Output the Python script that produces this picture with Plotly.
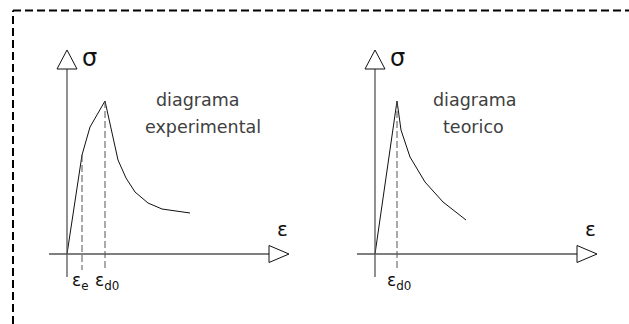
import plotly.graph_objects as go

# Stress-strain curves (strain in arbitrary units, stress in arbitrary units)
exp_strain = [0, 1.5, 2.3, 3.8, 5.1, 5.9, 6.8, 8.1, 9.5, 12.3]
exp_stress = [0, 9.9, 12.7, 15.3, 9.4, 7.6, 6.2, 5.1, 4.5, 4.1]
exp_marks = [1.5, 3.8]            # epsilon_e, epsilon_d0
exp_mark_labels = ["ε<sub>e</sub>", "ε<sub>d0</sub>"]

teo_strain = [0, 2.2, 2.6, 3.5, 5.0, 6.8, 9.1]
teo_stress = [0, 15.3, 12.4, 9.7, 7.2, 5.2, 3.4]
teo_marks = [2.2]
teo_mark_labels = ["ε<sub>d0</sub>"]

titles = [["diagrama", "experimental"], ["diagrama", "teorico"]]

FONT = "DejaVu Sans"
INK = "#111111"
AXIS_INK = "#555555"
TEXT_INK = "#404040"

fig = go.Figure()

# axis geometry (in data units)
X_MIN, X_END, X_TIP = -1.8, 20.2, 22.2
Y_MIN, Y_END, Y_TIP = -2.3, 18.5, 20.4
MARK_BOTTOM = -1.6

panels = [
    ("x", "y", exp_strain, exp_stress, exp_marks, exp_mark_labels, titles[0], (13.1, 13.6)),
    ("x2", "y2", teo_strain, teo_stress, teo_marks, teo_mark_labels, titles[1], (10.0, 9.8)),
]

for xa, ya, xs, ys, marks, mlabels, ttl, tx in panels:
    xref, yref = xa, ya
    # axes
    fig.add_shape(type="line", xref=xref, yref=yref, x0=X_MIN, x1=X_END, y0=0, y1=0,
                  line=dict(color=AXIS_INK, width=1.3))
    fig.add_shape(type="line", xref=xref, yref=yref, x0=0, x1=0, y0=Y_MIN, y1=Y_END,
                  line=dict(color=AXIS_INK, width=1.3))
    # open arrow heads
    fig.add_shape(type="path", xref=xref, yref=yref,
                  path=f"M {X_END},-0.85 L {X_TIP},0 L {X_END},0.85 Z",
                  line=dict(color=INK, width=1))
    fig.add_shape(type="path", xref=xref, yref=yref,
                  path=f"M -1.0,{Y_END} L 0,{Y_TIP} L 1.0,{Y_END} Z",
                  line=dict(color=INK, width=1))
    # curve
    fig.add_trace(go.Scatter(x=xs, y=ys, xaxis=xa, yaxis=ya, mode="lines",
                             line=dict(color=INK, width=1), hoverinfo="skip",
                             showlegend=False))
    # dashed reference lines
    for m, lab in zip(marks, mlabels):
        top = ys[xs.index(m)]
        fig.add_trace(go.Scatter(x=[m, m], y=[top, MARK_BOTTOM], xaxis=xa, yaxis=ya,
                                 mode="lines", line=dict(color=AXIS_INK, width=1, dash="7px,3px"),
                                 hoverinfo="skip", showlegend=False))
        fig.add_annotation(x=m - 1.2, y=-2.7, xref=xref, yref=yref, text=lab,
                           xanchor="left", showarrow=False,
                           font=dict(family=FONT, size=17, color=INK))
    # axis symbols
    fig.add_annotation(x=2.2, y=19.6, xref=xref, yref=yref, text="σ", showarrow=False,
                       font=dict(family=FONT, size=24, color=INK))
    fig.add_annotation(x=21.5, y=2.5, xref=xref, yref=yref, text="ε", showarrow=False,
                       font=dict(family=FONT, size=20, color=INK))
    # titles
    fig.add_annotation(x=tx[0], y=15.4, xref=xref, yref=yref, text=ttl[0], showarrow=False,
                       font=dict(family=FONT, size=17.5, color=TEXT_INK))
    fig.add_annotation(x=tx[1], y=12.7, xref=xref, yref=yref, text=ttl[1], showarrow=False,
                       font=dict(family=FONT, size=17.5, color=TEXT_INK))

# dashed frame
fig.add_shape(type="line", xref="paper", yref="paper", x0=13 / 629, x1=1, y0=1 - 10.5 / 324,
              y1=1 - 10.5 / 324, line=dict(color="black", width=2, dash="8px,4px"))
fig.add_shape(type="line", xref="paper", yref="paper", x0=13 / 629, x1=13 / 629, y0=0,
              y1=1 - 10.5 / 324, line=dict(color="black", width=2, dash="8px,4px"))

hidden = dict(visible=False, showgrid=False, zeroline=False, fixedrange=True)
fig.update_layout(
    width=629, height=324,
    margin=dict(l=0, r=0, t=0, b=0),
    paper_bgcolor="white", plot_bgcolor="rgba(0,0,0,0)",
    xaxis=dict(domain=[0, 1], range=[-6.7, 56.2], **hidden),
    yaxis=dict(domain=[0, 1], range=[-7.0, 25.4], **hidden),
    xaxis2=dict(domain=[0, 1], range=[-37.5, 25.4], anchor="y2", **hidden),
    yaxis2=dict(domain=[0, 1], range=[-7.0, 25.4], anchor="x2", **hidden),
)

fig.write_html("out.html")
